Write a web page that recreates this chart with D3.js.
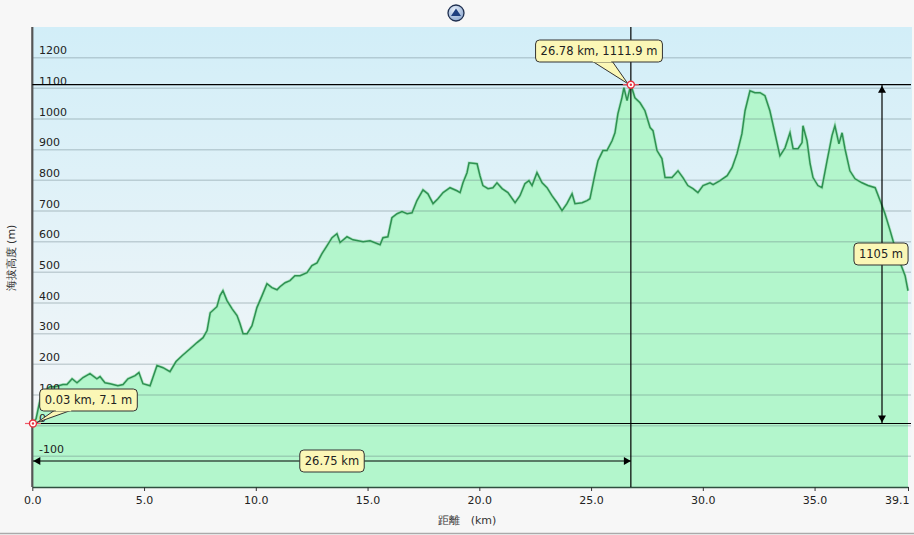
<!DOCTYPE html>
<html><head><meta charset="utf-8">
<script src="https://cdn.jsdelivr.net/npm/d3@7/dist/d3.min.js"></script>
<style>
html,body{margin:0;padding:0;background:#f7f7f7;}
svg{display:block;font-family:"DejaVu Sans",Verdana,sans-serif;}
</style></head>
<body>
<svg id="c" width="914" height="535"></svg>
<script>
const distKm = [0.03,0.17,0.34,0.57,0.79,1.02,1.37,1.55,1.78,2.00,2.27,2.58,2.89,3.03,3.25,3.48,3.83,4.06,4.28,4.60,4.77,4.95,5.27,5.58,5.85,6.16,6.43,6.70,7.06,7.37,7.64,7.82,7.96,8.26,8.40,8.53,8.71,8.94,9.16,9.29,9.43,9.61,9.83,10.05,10.28,10.50,10.72,10.95,11.08,11.31,11.53,11.75,11.98,12.29,12.51,12.74,12.96,13.19,13.41,13.63,13.77,14.08,14.35,14.80,15.11,15.56,15.69,15.91,16.09,16.32,16.54,16.77,16.99,17.21,17.48,17.70,17.93,18.15,18.38,18.69,19.00,19.14,19.27,19.45,19.54,19.90,20.03,20.16,20.39,20.61,20.79,21.02,21.28,21.60,21.82,22.04,22.22,22.36,22.58,22.81,23.03,23.25,23.48,23.70,23.92,24.15,24.28,24.60,24.82,24.95,25.18,25.31,25.53,25.71,25.94,26.07,26.20,26.38,26.47,26.61,26.78,26.96,27.19,27.41,27.64,27.77,27.95,28.17,28.31,28.62,28.89,29.11,29.33,29.56,29.78,30.01,30.32,30.46,30.77,31.09,31.31,31.53,31.75,31.89,32.11,32.33,32.56,32.78,33.00,33.23,33.45,33.68,33.90,34.04,34.26,34.44,34.48,34.66,34.80,34.93,35.15,35.33,35.56,35.78,35.91,36.09,36.23,36.36,36.58,36.81,37.12,37.39,37.71,37.93,38.15,38.38,38.60,38.83,39.05,39.18];
const elevM = [7.1,23,82,114,127,127,134,134,153,140,157,170,153,160,140,137,130,134,153,163,173,137,130,196,189,176,209,228,251,271,287,310,368,388,424,440,408,381,359,333,300,300,326,385,424,463,450,443,453,466,473,489,489,499,522,531,561,587,613,626,597,616,606,600,603,590,613,616,678,691,698,691,694,734,769,756,724,740,760,776,766,760,792,825,857,854,815,783,773,776,792,773,760,727,750,789,799,783,825,792,776,750,727,701,724,756,724,727,734,740,822,864,897,897,929,955,1017,1069,1102,1060,1111.9,1069,1053,1027,972,962,897,871,809,809,831,809,783,773,760,783,792,786,799,815,841,887,952,1027,1092,1086,1086,1076,1027,952,880,906,955,903,903,923,978,929,854,809,783,776,864,946,978,919,955,903,831,805,792,783,776,734,691,636,580,531,489,440];
const xTickVals = [0,5,10,15,20,25,30,35,39.18];
const xTickLabels = ["0.0","5.0","10.0","15.0","20.0","25.0","30.0","35.0","39.1"];
const yTickVals = [-100,0,100,200,300,400,500,600,700,800,900,1000,1100,1200];
const xTitle = "距離　(km)";
const yTitle = "海拔高度 (m)";

const svg = d3.select("#c");
const L = 32.3, R = 908, T = 27, B = 487;
const x = d3.scaleLinear().domain([0, 39.18]).range([L, R]);
const y = d3.scaleLinear().domain([-200, 1300]).range([B, T]);
const data = distKm.map((d,i)=>({km:d, m:elevM[i]}));

const defs = svg.append("defs");
const bg = defs.append("linearGradient").attr("id","bg").attr("x1",0).attr("y1",0).attr("x2",0).attr("y2",1);
bg.append("stop").attr("offset","0%").attr("stop-color","#d2eef8");
bg.append("stop").attr("offset","85%").attr("stop-color","#f3f6f8");
bg.append("stop").attr("offset","100%").attr("stop-color","#f6f7f8");
const btn = defs.append("radialGradient").attr("id","btn").attr("cx","40%").attr("cy","30%").attr("r","70%");
btn.append("stop").attr("offset","0%").attr("stop-color","#e6effa");
btn.append("stop").attr("offset","100%").attr("stop-color","#8fa9d0");

// plot background
svg.append("rect").attr("x",L).attr("y",T).attr("width",R-L+4).attr("height",B-T).attr("fill","url(#bg)");

// area
const area = d3.area().x(d=>x(d.km)).y0(y(-200)).y1(d=>y(d.m));
svg.append("path").datum(data).attr("d",area).attr("fill","#b3f6cc");

// gridlines
svg.append("g").selectAll("line").data(yTickVals).join("line")
  .attr("x1",L).attr("x2",R+3).attr("y1",d=>y(d)).attr("y2",d=>y(d))
  .attr("stroke","rgba(90,110,120,0.28)").attr("stroke-width",1.5);

// light raw band + line
const line = d3.line().x(d=>x(d.km)).y(d=>y(d.m));
svg.append("path").datum(data).attr("d",line)
  .attr("fill","none").attr("stroke","#8fdca6").attr("stroke-width",3).attr("opacity",0.6);
svg.append("path").datum(data).attr("d",line)
  .attr("fill","none").attr("stroke","#2e9152").attr("stroke-width",1.5);

// y tick labels inside
svg.append("g").selectAll("text").data(yTickVals).join("text")
  .attr("x",39).attr("y",d=>y(d)-3.5).attr("font-size",11).attr("fill","#222").text(d=>d);

// axes
const xAxis = d3.axisBottom(x).tickValues(xTickVals).tickFormat((d,i)=>xTickLabels[i]).tickSize(4).tickSizeOuter(0);
const gx = svg.append("g").attr("transform",`translate(0,${B})`).call(xAxis);
gx.select(".domain").attr("stroke","#2f4f3f").attr("stroke-width",1.5);
gx.selectAll(".tick line").attr("stroke","#333");
gx.selectAll(".tick text").attr("font-size",11).attr("fill","#222").attr("font-family","DejaVu Sans").attr("dy","0.9em");
gx.selectAll(".tick text").filter((d,i)=>i===xTickVals.length-1).attr("text-anchor","end").attr("dx","1px");
svg.append("line").attr("x1",L).attr("x2",L).attr("y1",T).attr("y2",B).attr("stroke","#555").attr("stroke-width",2.2);

// titles
svg.append("text").attr("x",467).attr("y",524).attr("text-anchor","middle").attr("font-size",11).attr("fill","#333").text(xTitle);
svg.append("text").attr("transform","translate(15,258) rotate(-90)").attr("text-anchor","middle").attr("font-size",11).attr("fill","#333").text(yTitle);

// annotations
const peak = data.reduce((a,b)=>b.m>a.m?b:a);
const low = data.reduce((a,b)=>b.m<a.m?b:a);
const px = x(peak.km), py = y(peak.m), lx = x(low.km), ly = y(low.m);
svg.append("line").attr("x1",L).attr("x2",R+3).attr("y1",py).attr("y2",py).attr("stroke","#000").attr("stroke-width",1.2);
svg.append("line").attr("x1",L).attr("x2",R+3).attr("y1",ly).attr("y2",ly).attr("stroke","#000").attr("stroke-width",1.2);
svg.append("line").attr("x1",px).attr("x2",px).attr("y1",T).attr("y2",B).attr("stroke","#000").attr("stroke-width",1.2);

function arrowHead(xh,yh,dir){
  const s=7,w=4; let p;
  if(dir==='l') p=[[xh,yh],[xh+s,yh-w],[xh+s,yh+w]];
  if(dir==='r') p=[[xh,yh],[xh-s,yh-w],[xh-s,yh+w]];
  if(dir==='u') p=[[xh,yh],[xh-w,yh+s],[xh+w,yh+s]];
  if(dir==='d') p=[[xh,yh],[xh-w,yh-s],[xh+w,yh-s]];
  svg.append("polygon").attr("points",p.map(q=>q.join(",")).join(" ")).attr("fill","#000");
}
const ay = 461;
svg.append("line").attr("x1",lx).attr("x2",px).attr("y1",ay).attr("y2",ay).attr("stroke","#000").attr("stroke-width",1.2);
arrowHead(L+1,ay,'l'); arrowHead(px,ay,'r');
const ax = 882;
svg.append("line").attr("x1",ax).attr("x2",ax).attr("y1",py).attr("y2",ly).attr("stroke","#000").attr("stroke-width",1.2);
arrowHead(ax,py+1,'u'); arrowHead(ax,ly-1,'d');

function box(cx,cy,txt,anchorPt){
  const g = svg.append("g");
  const t = g.append("text").attr("font-size",11.5).attr("fill","#222").text(txt);
  const w = t.node().getComputedTextLength()+10, h = 22;
  const bx = cx - w/2, by = cy - h/2;
  if(anchorPt){
    const [ax0,ay0,bx0,bx1] = anchorPt;
    g.insert("polygon","text").attr("points",`${bx0},${by+h-1} ${bx1},${by+h-1} ${ax0},${ay0}`).attr("fill","#fbf7b6").attr("stroke","#333").attr("stroke-width",1);
  }
  g.insert("rect","text").attr("x",bx).attr("y",by).attr("width",w).attr("height",h).attr("rx",4).attr("fill","#fbf7b6").attr("stroke","#333").attr("stroke-width",1);
  if(anchorPt){
    const [ax0,ay0,bx0,bx1] = anchorPt;
    g.insert("line","text").attr("x1",bx0+0.8).attr("x2",bx1-0.8).attr("y1",by+h-0.5).attr("y2",by+h-0.5).attr("stroke","#fbf7b6").attr("stroke-width",1.5);
  }
  t.attr("x",bx+5).attr("y",cy+4);
}
box(599,51,`${peak.km.toFixed(2)} km, ${peak.m.toFixed(1)} m`,[px-3,py-1,592,612]);
box(88.5,400,`${low.km.toFixed(2)} km, ${low.m} m`,[lx+4,ly-1,55,72]);
box(332,461,`${(peak.km-low.km).toFixed(2)} km`);
box(881,254,`${Math.round(peak.m-low.m)} m`);

function marker(cx,cy){
  const g = svg.append("g");
  g.append("line").attr("x1",cx-8).attr("x2",cx+8).attr("y1",cy).attr("y2",cy).attr("stroke","#f05a6a").attr("stroke-width",1.2);
  g.append("circle").attr("cx",cx).attr("cy",cy).attr("r",3.5).attr("fill","#fff").attr("stroke","#e8303f").attr("stroke-width",1.4);
  g.append("circle").attr("cx",cx).attr("cy",cy).attr("r",1.2).attr("fill","#e8303f");
}
marker(px,py); marker(lx,ly);

// top toggle button
svg.append("circle").attr("cx",456).attr("cy",13).attr("r",8).attr("fill","url(#btn)").attr("stroke","#1f2f4f").attr("stroke-width",1.3);
svg.append("polygon").attr("points","456,8.5 461,16 451,16").attr("fill","#1f3f7f");

// bottom border
svg.append("line").attr("x1",0).attr("x2",914).attr("y1",533.5).attr("y2",533.5).attr("stroke","#aaa").attr("stroke-width",1.5);
</script>
</body></html>
